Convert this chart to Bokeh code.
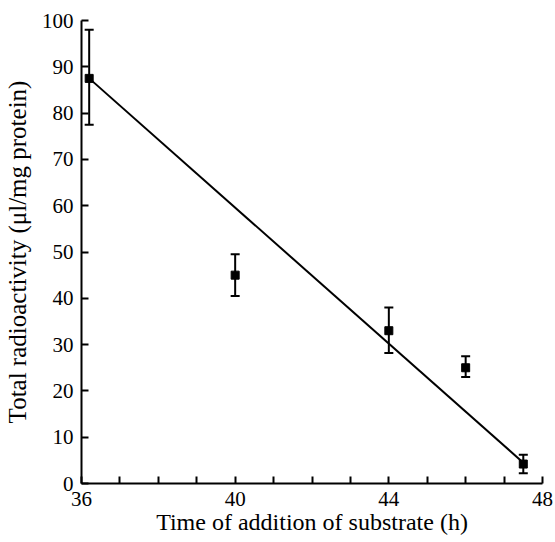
from bokeh.plotting import figure
from bokeh.models import ColumnDataSource, Whisker, FixedTicker, Range1d
from bokeh.embed import file_html
from bokeh.resources import INLINE

# Data
time_h = [36.2, 40.0, 44.0, 46.0, 47.5]
radioactivity = [87.5, 45.0, 33.0, 25.0, 4.2]
err_upper = [98.0, 49.5, 38.0, 27.5, 6.2]
err_lower = [77.5, 40.5, 28.2, 23.0, 2.2]
fit_x = [36.2, 47.5]
fit_y = [87.5, 4.5]
x_major = [36, 40, 44, 48]
x_minor = [37, 38, 39, 41, 42, 43, 45, 46, 47]
y_ticks = [0, 10, 20, 30, 40, 50, 60, 70, 80, 90, 100]

FONT = "Liberation Serif"

p = figure(width=555, height=542, output_backend="svg", toolbar_location=None,
           x_range=Range1d(36, 48), y_range=Range1d(0, 100),
           min_border_left=80, min_border_right=13, min_border_top=20, min_border_bottom=59)
p.outline_line_color = None
p.grid.visible = False
p.background_fill_color = "white"
p.border_fill_color = "white"

src = ColumnDataSource(dict(x=time_h, y=radioactivity, upper=err_upper, lower=err_lower))

p.line(fit_x, fit_y, line_color="black", line_width=2)
w = Whisker(source=src, base="x", upper="upper", lower="lower", line_color="black", line_width=2)
w.upper_head.size = 9
w.lower_head.size = 9
w.upper_head.line_width = 2
w.lower_head.line_width = 2
p.add_layout(w)
p.scatter("x", "y", source=src, marker="square", size=8, fill_color="black", line_color="black")

xa = p.xaxis[0]
xa.ticker = FixedTicker(ticks=x_major, minor_ticks=x_minor)
xa.axis_label = "Time of addition of substrate (h)"
ya = p.yaxis[0]
ya.ticker = FixedTicker(ticks=y_ticks)
ya.axis_label = "Total radioactivity (μl/mg protein)"

for ax in (xa, ya):
    ax.axis_line_width = 2
    ax.axis_line_color = "black"
    ax.major_tick_in = 7
    ax.major_tick_out = 0
    ax.minor_tick_in = 7
    ax.minor_tick_out = 0
    ax.major_tick_line_width = 2
    ax.minor_tick_line_width = 2
    ax.major_label_text_font = FONT
    ax.major_label_text_font_size = "21px"
    ax.major_label_text_color = "black"
    ax.axis_label_text_font = FONT
    ax.axis_label_text_font_style = "normal"
    ax.axis_label_text_color = "black"
xa.axis_label_text_font_size = "24px"
ya.axis_label_text_font_size = "25px"
ya.minor_tick_in = 0
xa.major_label_standoff = 8
ya.major_label_standoff = 8
xa.axis_label_standoff = 0
ya.axis_label_standoff = 8

open("out.html", "w").write(file_html(p, INLINE))
